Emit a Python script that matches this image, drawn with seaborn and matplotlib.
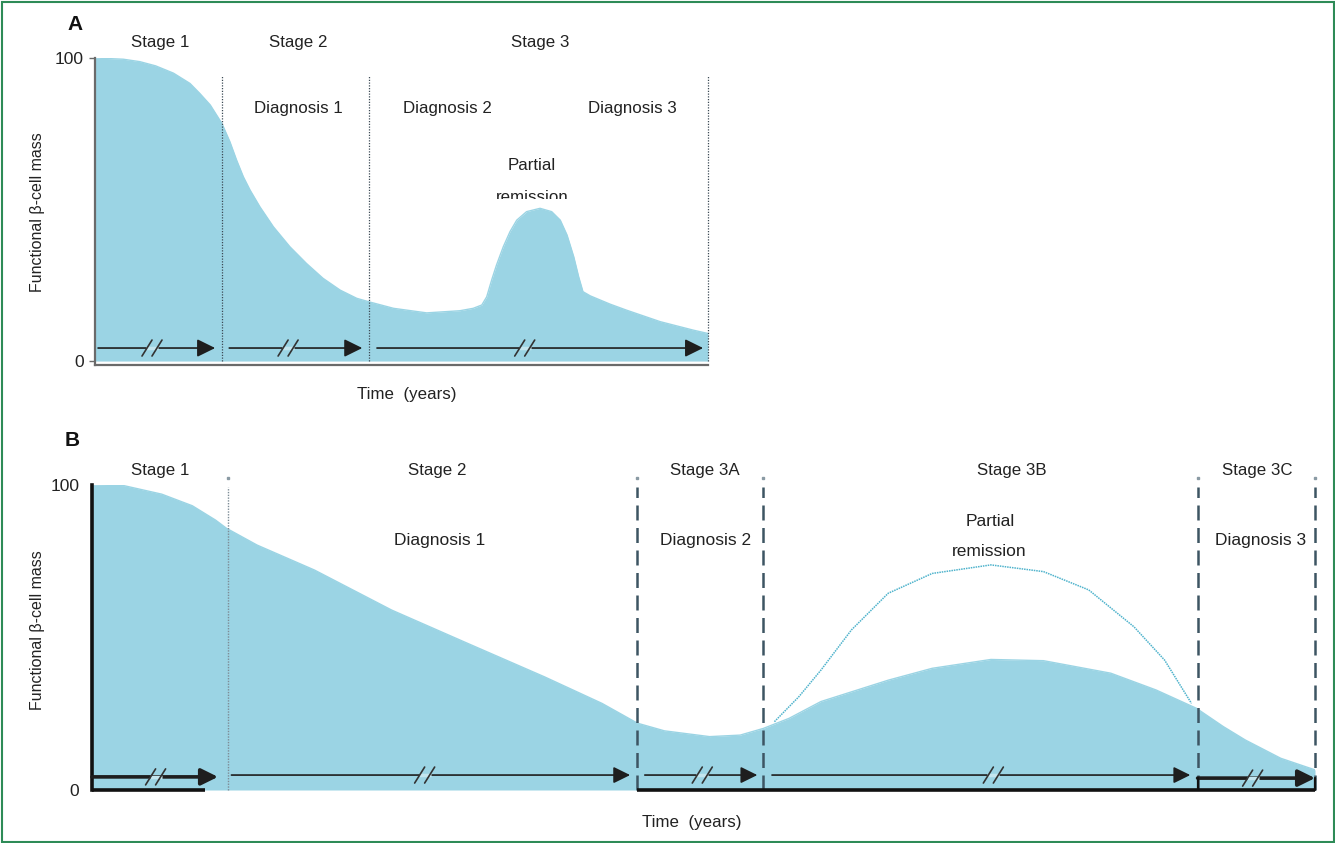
import matplotlib
matplotlib.use("Agg")
import matplotlib.pyplot as plt
import seaborn as sns
from matplotlib.patches import Rectangle
from matplotlib.transforms import Bbox, IdentityTransform

# ---------------- data ----------------
a_time = [0, 4.6, 7.3, 9.9, 12.8, 15.5, 17.1, 18.8, 20.7, 22.0, 23.1, 24.2, 25.3, 26.9,
          29.1, 31.8, 34.5, 37.2, 40.0, 42.7, 44.6, 48.7, 54.1, 59.5, 61.7, 63.1, 63.9,
          64.7, 65.5, 66.6, 67.7, 68.8, 70.4, 72.6, 74.5, 75.9, 77.0, 78.1, 78.9, 79.6,
          80.8, 84.0, 86.7, 92.2, 97.6, 100]
a_mass = [100, 99.6, 98.8, 97.4, 95, 91.6, 88.3, 84.5, 78.4, 72.4, 66.3, 60.8, 56.4, 50.9,
          44.3, 37.7, 32.2, 27.3, 23.4, 20.7, 19.6, 17.4, 15.9, 16.6, 17.4, 18.5, 21.2,
          26.7, 31.7, 37.7, 42.7, 46.5, 49.3, 50.4, 49.3, 46.5, 41.6, 34.4, 27.8, 22.9,
          21.5, 18.8, 16.8, 13.0, 10.2, 9.1]

b_time = [0, 2.6, 5.7, 8.2, 10.1, 11.0, 13.5, 18.2, 24.5, 30.7, 37.0, 41.7, 44.6, 46.8,
          50.5, 53.0, 54.9, 57.0, 59.6, 65.1, 68.7, 73.5, 77.8, 83.3, 87.0, 90.3, 92.5,
          94.3, 97.2, 100]
b_mass = [100, 99.8, 97, 93.2, 88.5, 85.8, 80.3, 72.1, 59, 48.1, 37.1, 28.4, 21.9, 19.4,
          17.5, 18, 20.2, 23.5, 29, 36, 39.9, 42.8, 42.4, 38.3, 32.8, 26.8, 20.8,
          16.4, 10.4, 6.6]

b_remission_time = [55.8, 57.8, 59.6, 62.1, 65.1, 68.7, 73.5, 77.8, 81.5, 85.2, 87.7, 89.9]
b_remission_mass = [22.4, 30.6, 39.3, 52.5, 64.5, 71, 73.8, 71.6, 65.6, 53.5, 42.6, 28.4]

a_dividers = [20.7, 44.7, 100]
b_dividers_dashed = [44.6, 54.9, 90.4, 100]
b_dividers_dotted = [11.1]

a_stage_labels = ["Stage 1", "Stage 2", "Stage 3"]
a_diag_labels = ["Diagnosis 1", "Diagnosis 2", "Diagnosis 3"]
b_stage_labels = ["Stage 1", "Stage 2", "Stage 3A", "Stage 3B", "Stage 3C"]
b_diag_labels = ["Diagnosis 1", "Diagnosis 2", "Diagnosis 3"]
y_ticks = [0, 100]
y_ticklabels = ["0", "100"]

# arrows: (start, end, break position)
a_arrows = [(0.5, 19.6, 9.3), (21.9, 43.6, 31.5), (46.0, 99.2, 70.1)]
b_arrows = [(0.0, 10.3, 5.2, 4.3, True), (11.4, 44.0, 27.2, 4.9, False),
            (45.2, 54.4, 49.9, 4.9, False), (55.6, 89.8, 73.7, 4.9, False),
            (90.4, 100.0, 94.9, 3.9, True)]

# ---------------- style ----------------
FILL = "#9bd4e4"
DARK = "#1e1e1e"
sns.set_theme(style="white")
NARROW = ["Liberation Sans Narrow", "Liberation Sans", "DejaVu Sans"]
REG = ["Liberation Sans", "DejaVu Sans"]
plt.rcParams["font.family"] = NARROW

W, H = 1335, 843
fig = plt.figure(figsize=(W / 100, H / 100), dpi=100)
fig.patch.set_facecolor("white")


def axes_px(x0, x1, ytop, ybot):
    return fig.add_axes([x0 / W, 1 - ybot / H, (x1 - x0) / W, (ybot - ytop) / H])


def ftext(x, y, s, size=12.2, family=NARROW, **kw):
    return fig.text(x / W, 1 - y / H, s, fontsize=size, family=family,
                    ha=kw.pop("ha", "center"), va=kw.pop("va", "center"),
                    color=kw.pop("color", "#222222"), **kw)


def draw_break(ax, xc, y, lw=1.2):
    cx, cy = ax.transData.transform((xc, y))
    ax.plot([cx - 6, cx + 6], [cy, cy], color="#c4e6ef", lw=2.5,
            transform=IdentityTransform(), clip_on=False, zorder=5,
            solid_capstyle="butt")
    for off in (-5, 5):
        ax.plot([cx + off - 5, cx + off + 5], [cy - 8, cy + 8], color="#333333", lw=lw,
                transform=IdentityTransform(), clip_on=False, zorder=6)


def draw_arrow(ax, x0, x1, y, lw=1.2, ms=13):
    ax.annotate("", xy=(x1, y), xytext=(x0, y), annotation_clip=False,
                arrowprops=dict(arrowstyle="-|>,head_length=0.85,head_width=0.42",
                                color=DARK, lw=lw, shrinkA=0, shrinkB=0,
                                mutation_scale=ms), zorder=4)


# ---------------- panel A ----------------
axA = axes_px(95, 708, 58, 365)
axA.set_xlim(0, 100)
axA.set_ylim(-1.3, 100)
axA.fill_between(a_time, a_mass, 0, color=FILL, lw=0, zorder=1)
sns.lineplot(x=a_time, y=a_mass, ax=axA, color=FILL, lw=1.0, sort=False, zorder=2)
axA.vlines(a_dividers, 0, 94.4, colors="#3c4a55", linestyles=(0, (1, 1.2)), lw=0.9,
           zorder=3, clip_on=False)
for s in ["top", "right"]:
    axA.spines[s].set_visible(False)
for s in ["left", "bottom"]:
    axA.spines[s].set_color("#6a6a6a")
    axA.spines[s].set_linewidth(1.6)
axA.set_xticks([])
axA.set_yticks(y_ticks)
axA.set_yticklabels(y_ticklabels, fontsize=12.5, family=NARROW, color="#222222")
axA.tick_params(axis="y", length=4, width=1, color="#6a6a6a", pad=4, left=True)
axA.set_xlabel("")
axA.set_ylabel("")
for (x0, x1, xb) in a_arrows:
    draw_arrow(axA, x0, x1, 4.3, lw=1.2)
    draw_break(axA, xb, 4.3)

# ---------------- panel B ----------------
axB = axes_px(92, 1315, 485, 790)
axB.set_xlim(0, 100)
axB.set_ylim(0, 100)
axB.fill_between(b_time, b_mass, 0, color=FILL, lw=0, zorder=1)
sns.lineplot(x=b_time, y=b_mass, ax=axB, color=FILL, lw=1.0, sort=False, zorder=2)
sns.lineplot(x=b_remission_time, y=b_remission_mass, ax=axB, color="#4fb3cc", lw=1.1,
             linestyle=(0, (1, 0.6)), sort=False, zorder=3)
axB.vlines(b_dividers_dashed, 0, 99.3, colors="#3d5563", linestyles=(0, (6, 3)), lw=1.8,
           zorder=3, clip_on=False)
axB.vlines(b_dividers_dotted, 0, 99.3, colors="#7d8c96", linestyles=(0, (1, 1)), lw=1.0,
           zorder=3, clip_on=False)
axB.plot(b_dividers_dashed + b_dividers_dotted, [102.3] * 5, ls="none", marker="s", ms=1.5,
         color="#8a9aa4", clip_on=False)
for s in ["top", "right", "bottom"]:
    axB.spines[s].set_visible(False)
axB.spines["left"].set_color("#111111")
axB.spines["left"].set_linewidth(2.6)
axB.set_xticks([])
axB.set_yticks(y_ticks)
axB.set_yticklabels(y_ticklabels, fontsize=12.5, family=NARROW, color="#222222")
axB.tick_params(axis="y", length=0, pad=9)
axB.set_xlabel("")
axB.set_ylabel("")
axB.plot([0, 9.2], [0, 0], color="#111111", lw=2.6, solid_capstyle="butt", clip_on=False,
         zorder=5)
axB.plot([44.6, 100], [0, 0], color="#111111", lw=2.6, solid_capstyle="butt", clip_on=False,
         zorder=5)
axB.plot([100, 100], [0, 3.9], color="#111111", lw=1.6, clip_on=False, zorder=5)
axB.plot([90.4, 90.4], [0, 3.9], color="#111111", lw=1.6, clip_on=False, zorder=5)
for (x0, x1, xb, yy, thick) in b_arrows:
    draw_arrow(axB, x0, x1, yy, lw=2.6 if thick else 1.2, ms=12)
    draw_break(axB, xb, yy)

# ---------------- texts ----------------
ftext(75, 25, "A", size=15, family=REG, weight="bold", color="#111111")
ftext(72, 440, "B", size=15, family=REG, weight="bold", color="#111111")

for lab, x in zip(a_stage_labels, [160, 298, 540]):
    ftext(x, 43, lab)
for lab, x in zip(a_diag_labels, [298, 447, 632]):
    ftext(x, 108, lab)
ftext(532, 165, "Partial")
t = ftext(532, 197, "remission")
t.set_clip_box(Bbox([[470, H - 198.5], [600, H - 150]]))
t.set_clip_on(True)
ftext(407, 395, "Time  (years)")

for lab, x in zip(b_stage_labels, [160, 437, 705, 1012, 1257]):
    ftext(x, 470, lab)
for lab, x in zip(b_diag_labels, [440, 706, 1261]):
    ftext(x, 541, lab, size=12.5, family=REG)
ftext(990, 521, "Partial", size=12.5, family=REG)
ftext(989, 552, "remission", size=12.5, family=REG)
ftext(692, 823, "Time  (years)")

ftext(38, 212, "Functional β-cell mass", size=11.5, family=REG, rotation=90)
ftext(38, 630, "Functional β-cell mass", size=11.5, family=REG, rotation=90)

# green frame
fig.patches.append(Rectangle((1.5 / W, 1.5 / H), (W - 3) / W, (H - 3) / H,
                             transform=fig.transFigure, fill=False,
                             ec="#2e8b57", lw=1.5))

fig.savefig("out.png", dpi=100)
